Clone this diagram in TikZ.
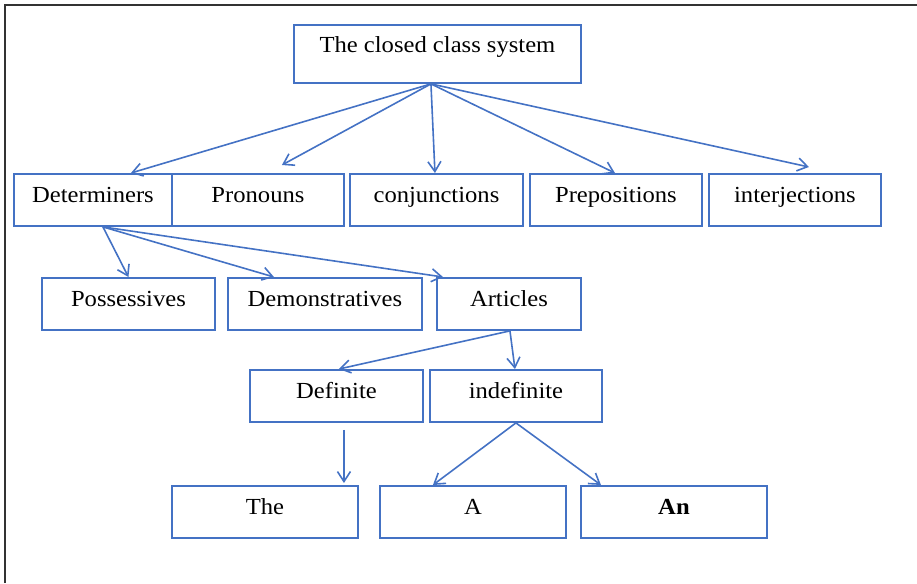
\documentclass[tikz,border=0pt]{standalone}
\usepackage{fontspec}
\setmainfont{Liberation Serif}[FakeStretch=1.07]
\usetikzlibrary{arrows.meta}
\definecolor{boxblue}{HTML}{4472C4}
\definecolor{framegray}{HTML}{333333}
\begin{document}
\begin{tikzpicture}[x=1pt,y=-1pt,
  box/.style={draw=boxblue,line width=1.9pt,anchor=north west,inner xsep=0pt,inner ysep=0pt,
    text height=29pt,text depth=23pt,align=center,font=\fontsize{23}{26}\selectfont},
  conn/.style={draw=boxblue,line width=1.6pt,-{Straight Barb[length=10pt,width=13pt,line width=1.6pt]}}]
\useasboundingbox (0,0) rectangle (917,583);
\draw[framegray,line width=2.2pt] (5,583) -- (5,5) -- (917,5);
% boxes
\node[box,minimum width=287pt,text height=28pt,text depth=30pt] (top) at (293,24) {The closed class system};
\node[box,minimum width=158pt] (det) at (13,173) {Determiners};
\node[box,minimum width=172pt] (pron) at (171,173) {Pronouns};
\node[box,minimum width=173pt] (conj) at (349,173) {conjunctions};
\node[box,minimum width=172pt] (prep) at (529,173) {Prepositions};
\node[box,minimum width=172pt] (inter) at (708,173) {interjections};
\node[box,minimum width=173pt] (poss) at (41,277) {Possessives};
\node[box,minimum width=194pt] (demo) at (227,277) {Demonstratives};
\node[box,minimum width=144pt] (art) at (436,277) {Articles};
\node[box,minimum width=173pt] (defi) at (249,369) {Definite};
\node[box,minimum width=172pt] (indef) at (429,369) {indefinite};
\node[box,minimum width=186pt] (the) at (171,485) {The};
\node[box,minimum width=186pt] (a) at (379,485) {A};
\node[box,minimum width=186pt] (an) at (580,485) {\bfseries An};
% connectors
\coordinate (topfan) at ([xshift=-6.5pt]top.south);
\draw[conn] (topfan) -- ([xshift=38pt]det.north);
\draw[conn] (topfan) -- ([xshift=24pt,yshift=8pt]pron.north);
\draw[conn] (topfan) -- ([xshift=-1.5pt]conj.north);
\draw[conn] (topfan) -- ([xshift=-1pt]prep.north);
\draw[conn] (topfan) -- ([xshift=14pt,yshift=6pt]inter.north);
\coordinate (detfan) at ([xshift=10pt]det.south);
\draw[conn] (detfan) -- (poss.north);
\draw[conn] (detfan) -- ([xshift=-51pt]demo.north);
\draw[conn] (detfan) -- ([xshift=-66pt]art.north);
\coordinate (artfan) at ([xshift=1pt]art.south);
\draw[conn] (artfan) -- ([xshift=2.5pt]defi.north);
\draw[conn] (artfan) -- ([xshift=-1pt]indef.north);
\coordinate (defstart) at ([xshift=7.5pt,yshift=-7pt]defi.south);
\draw[conn] (defstart) -- ([yshift=2pt]defstart |- the.north);
\draw[conn] (indef.south) -- ([xshift=-40pt]a.north);
\draw[conn] (indef.south) -- ([xshift=-73pt]an.north);
\end{tikzpicture}
\end{document}
